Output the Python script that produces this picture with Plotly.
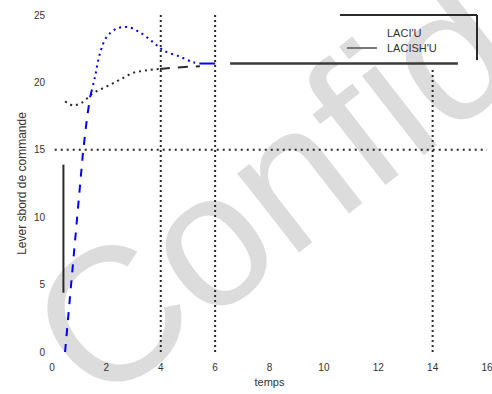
import plotly.graph_objects as go

# Time axis ticks
x_ticks = [0, 2, 4, 6, 8, 10, 12, 14, 16]
y_ticks = [0, 5, 10, 15, 20, 25]

# LACI U response (time, lever position)
t_laci = [0.48, 1.03, 1.14, 1.29, 1.40, 1.51, 1.58, 1.77, 2.02, 2.39, 2.80,
          3.24, 3.71, 4.08, 4.71, 5.19, 5.44, 6.0]
v_laci = [0.0, 12.5, 14.8, 17.4, 18.9, 19.8, 20.4, 22.2, 23.4, 24.0, 24.1,
          23.7, 23.0, 22.4, 21.9, 21.5, 21.4, 21.4]

# LACISH U response (time, lever position)
t_lacish = [0.48, 0.77, 1.10, 1.51, 2.02, 2.50, 2.98, 3.49, 3.97, 4.52, 5.44,
            6.55, 14.93]
v_lacish = [18.6, 18.3, 18.5, 19.2, 19.7, 20.2, 20.7, 20.9, 21.0, 21.1, 21.2,
            21.4, 21.4]

# Reference markers
h_ref_level = 15
h_ref_span = [0.1, 16]
v_ref_times = [4, 6, 14]
v_ref_tops = [25, 25, 21.1]
bar_time = 0.42
bar_span = [4.4, 13.9]

legend_names = ["LACI'U", "LACISH'U"]

BLUE = "#0000ff"
DARK = "#2a2a2a"
FONT = "Liberation Sans, Arial, sans-serif"

fig = go.Figure()


def seg(t, v, i0, i1, color, dash, width, shape="linear"):
    fig.add_trace(go.Scatter(
        x=t[i0:i1 + 1], y=v[i0:i1 + 1], mode="lines",
        line=dict(color=color, dash=dash, width=width, shape=shape),
        showlegend=False, hoverinfo="skip"))


# reference dotted lines
fig.add_trace(go.Scatter(
    x=h_ref_span, y=[h_ref_level, h_ref_level], mode="lines",
    line=dict(color=DARK, dash="2px,4px", width=2),
    showlegend=False, hoverinfo="skip"))
for tv, top in zip(v_ref_times, v_ref_tops):
    fig.add_trace(go.Scatter(
        x=[tv, tv], y=[0, top], mode="lines",
        line=dict(color=DARK, dash="2px,3px", width=2),
        showlegend=False, hoverinfo="skip"))

# solid vertical bar near the origin
fig.add_trace(go.Scatter(
    x=[bar_time, bar_time], y=bar_span, mode="lines",
    line=dict(color=DARK, width=2), showlegend=False, hoverinfo="skip"))

# LACISH U: dotted, then dashed, then solid plateau
seg(t_lacish, v_lacish, 0, 8, DARK, "2px,4px", 2, "spline")
seg(t_lacish, v_lacish, 8, 10, DARK, "10px,8px", 2)
seg(t_lacish, v_lacish, 11, 12, "#3a3a3a", "solid", 2.5)

# LACI U: dashed rise, dotted overshoot, solid end
seg(t_laci, v_laci, 0, 5, BLUE, "8px,8px", 2)
seg(t_laci, v_laci, 5, 16, BLUE, "2px,4px", 2, "spline")
seg(t_laci, v_laci, 16, 17, BLUE, "solid", 2)

# legend frame (top and right edges) and entries
fig.add_shape(type="line", xref="paper", yref="paper",
              x0=0.662, x1=0.977, y0=1.0, y1=1.0,
              line=dict(color=DARK, width=2))
fig.add_shape(type="line", xref="paper", yref="paper",
              x0=0.977, x1=0.977, y0=1.0, y1=0.866,
              line=dict(color=DARK, width=2))
fig.add_shape(type="line", xref="paper", yref="paper",
              x0=0.678, x1=0.747, y0=0.902, y1=0.902,
              line=dict(color="#777777", width=2))
for name, yy in zip(legend_names, [0.947, 0.902]):
    fig.add_annotation(text=name, xref="paper", yref="paper",
                       x=0.766, y=yy, xanchor="left", yanchor="middle",
                       showarrow=False,
                       font=dict(family=FONT, size=11, color="#333333"))

# watermark behind the data
fig.add_shape(type="line", xref="paper", yref="paper", layer="below",
              x0=0.713, y0=0.757, x1=1.076, y1=1.125,
              line=dict(color="rgba(0,0,0,0)", width=0),
              label=dict(text="Confidential", textangle=-38,
                         textposition="middle", xanchor="center",
                         yanchor="middle",
                         font=dict(family=FONT, size=190, color="#dcdcdc")))

fig.update_layout(
    width=492, height=394,
    margin=dict(l=52, r=5, t=15, b=42, autoexpand=False),
    paper_bgcolor="white", plot_bgcolor="rgba(0,0,0,0)",
    font=dict(family=FONT, size=10, color="#333333"),
    xaxis=dict(range=[0, 16], tickvals=x_ticks, showgrid=False,
               zeroline=False, showline=False, ticks="", automargin=False,
               ticklabelstandoff=8, ticklabeloverflow="allow",
               title=dict(text="temps", font=dict(size=11), standoff=6)),
    yaxis=dict(range=[0, 25], tickvals=y_ticks, showgrid=False,
               zeroline=False, showline=False, ticks="", automargin=False,
               ticklabelstandoff=6,
               title=dict(text="Lever sbord de commande",
                          font=dict(size=12), standoff=4)),
)

fig.write_html("out.html")
